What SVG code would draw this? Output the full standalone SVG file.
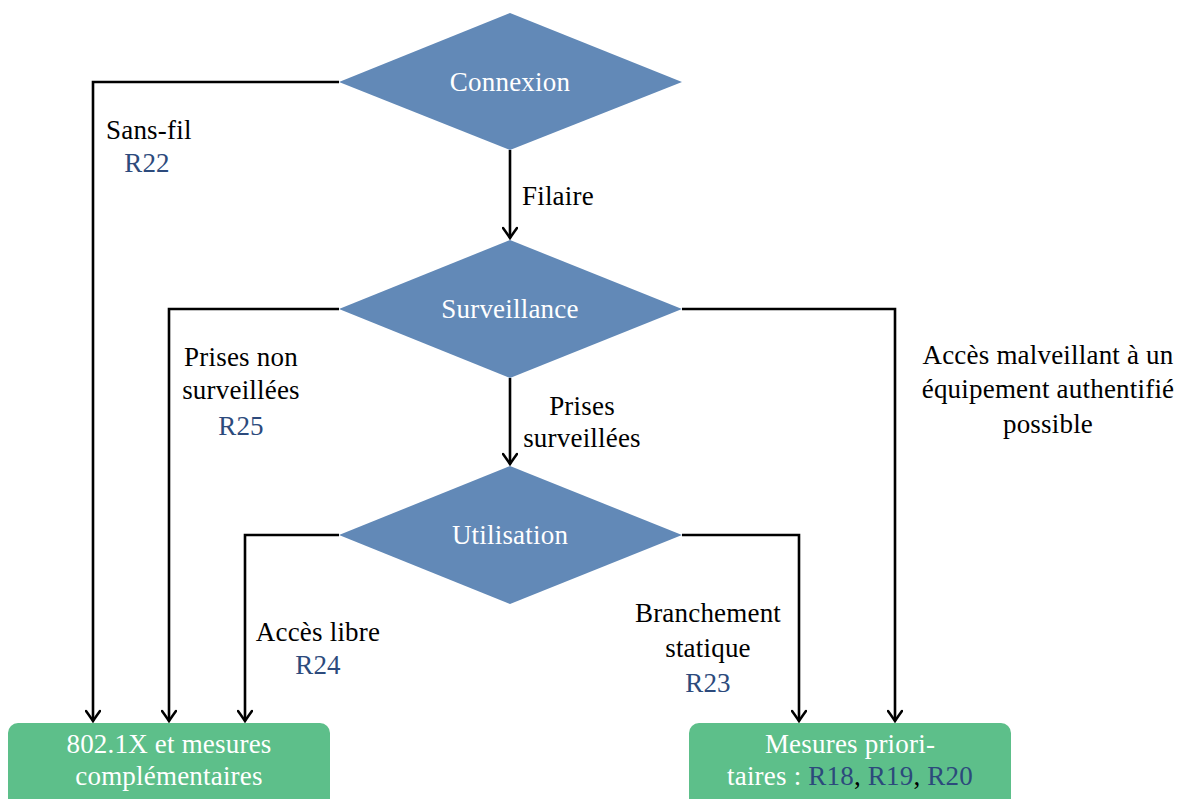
<svg xmlns="http://www.w3.org/2000/svg" width="1195" height="799" viewBox="0 0 1195 799">
<defs>
<style>
text{font-family:"Liberation Serif","DejaVu Serif",serif;font-size:27px;letter-spacing:0.2px;}
.w{fill:#ffffff;}
.k{fill:#000000;}
.r{fill:#2c4a7c;}
.c{text-anchor:middle;}
.dia{fill:#6289b7;}
.box{fill:#5dbf8a;}
.ln{fill:none;stroke:#000;stroke-width:2.6;marker-end:url(#ah);}
</style>
<marker id="ah" markerUnits="userSpaceOnUse" viewBox="-12 -8 14 16" refX="0" refY="0" markerWidth="14" markerHeight="16" orient="auto">
<path d="M -10 -7 Q -3 -2 0 0 Q -3 2 -10 7" fill="none" stroke="#000" stroke-width="2.6" stroke-linecap="round"/>
</marker>
</defs>
<rect width="1195" height="799" fill="#ffffff"/>
<g id="connectors">
<polyline class="ln" points="339,82 93,82 93,721"/>
<line class="ln" x1="510" y1="150" x2="510" y2="238"/>
<polyline class="ln" points="339,309 169,309 169,721"/>
<polyline class="ln" points="682,309 895,309 895,721"/>
<line class="ln" x1="510" y1="378" x2="510" y2="464"/>
<polyline class="ln" points="339,535 245,535 245,721"/>
<polyline class="ln" points="682,535 799,535 799,721"/>
<text class="k" x="522" y="205">Filaire</text>
<text class="k" x="106" y="139">Sans-fil</text>
<text class="r c" x="147" y="172">R22</text>
<text class="k c" x="241" y="366">Prises non</text>
<text class="k c" x="241" y="399">surveillées</text>
<text class="r c" x="241" y="435">R25</text>
<text class="k c" x="582" y="415">Prises</text>
<text class="k c" x="582" y="447">surveillées</text>
<text class="k c" x="1048" y="364">Accès malveillant à un</text>
<text class="k c" x="1048" y="398">équipement authentifié</text>
<text class="k c" x="1048" y="433">possible</text>
<text class="k c" x="318" y="641">Accès libre</text>
<text class="r c" x="318" y="674">R24</text>
<text class="k c" x="708" y="622">Branchement</text>
<text class="k c" x="708" y="657">statique</text>
<text class="r c" x="708" y="692">R23</text>
</g>
<g id="connexion">
<polygon class="dia" points="510,13 682,82 510,150 339,82"/>
<text class="w c" x="510" y="91">Connexion</text>
</g>
<g id="surveillance">
<polygon class="dia" points="510,240 682,309 510,378 339,309"/>
<text class="w c" x="510" y="318">Surveillance</text>
</g>
<g id="utilisation">
<polygon class="dia" points="510,466 682,535 510,604 339,535"/>
<text class="w c" x="510" y="544">Utilisation</text>
</g>
<g id="mesures-8021x">
<rect class="box" x="8" y="723" width="322" height="90" rx="10"/>
<text class="w c" x="169" y="753">802.1X et mesures</text>
<text class="w c" x="169" y="785">complémentaires</text>
</g>
<g id="mesures-prioritaires">
<rect class="box" x="689" y="723" width="322" height="90" rx="10"/>
<text class="w c" x="850" y="753">Mesures priori-</text>
<text class="c" x="850" y="785"><tspan class="w">taires : </tspan><tspan class="r">R18</tspan><tspan class="k">, </tspan><tspan class="r">R19</tspan><tspan class="k">, </tspan><tspan class="r">R20</tspan></text>
</g>
</svg>
